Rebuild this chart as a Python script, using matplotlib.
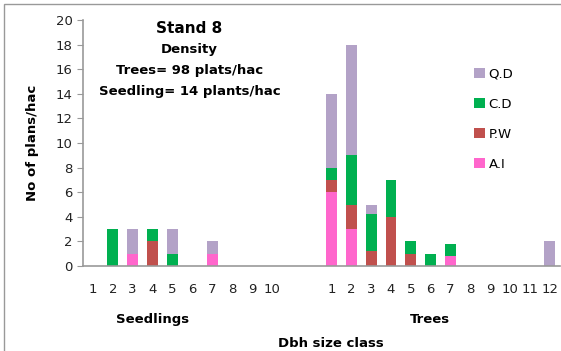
import numpy as np
import matplotlib.pyplot as plt
from matplotlib.patches import Rectangle

# Dbh size classes for seedlings and trees
seedling_classes = ['1', '2', '3', '4', '5', '6', '7', '8', '9', '10']
tree_classes = ['1', '2', '3', '4', '5', '6', '7', '8', '9', '10', '11', '12']

# Plants per hectare by species (stacked bottom to top: A.I, P.W, C.D, Q.D)
seedling_ai = [0, 0, 1, 0, 0, 0, 1, 0, 0, 0]
seedling_pw = [0, 0, 0, 2, 0, 0, 0, 0, 0, 0]
seedling_cd = [0, 3, 0, 1, 1, 0, 0, 0, 0, 0]
seedling_qd = [0, 0, 2, 0, 2, 0, 1, 0, 0, 0]

tree_ai = [6, 3, 0, 0, 0, 0, 0.8, 0, 0, 0, 0, 0]
tree_pw = [1, 2, 1.2, 4, 1, 0, 0, 0, 0, 0, 0, 0]
tree_cd = [1, 4, 3, 3, 1, 1, 1, 0, 0, 0, 0, 0]
tree_qd = [6, 9, 0.8, 0, 0, 0, 0, 0, 0, 0, 0, 2]

species = ['A.I', 'P.W', 'C.D', 'Q.D']
colors = ['#FF66CC', '#C0504D', '#00B050', '#B3A2C7']

# two empty slots separate seedlings from trees
gap = [0, 0]
series = [
    seedling_ai + gap + tree_ai,
    seedling_pw + gap + tree_pw,
    seedling_cd + gap + tree_cd,
    seedling_qd + gap + tree_qd,
]
labels = seedling_classes + ['', ''] + tree_classes
x = np.arange(len(labels))

fig = plt.figure(figsize=(5.61, 3.51), dpi=100)
ax = fig.add_axes([0.148, 0.242, 0.85, 0.701])

bottom = np.zeros(len(labels))
for name, vals, col in zip(species, series, colors):
    vals = np.array(vals, dtype=float)
    ax.bar(x, vals, width=0.55, bottom=bottom, color=col, label=name)
    bottom += vals

ax.set_xlim(-0.5, len(labels) - 0.5)
ax.set_ylim(0, 20)
ax.set_yticks(np.arange(0, 21, 2))
ax.set_xticks(x)
ax.set_xticklabels(labels)
ax.tick_params(axis='x', length=0, pad=12, labelsize=9.5, colors='#222222')
ax.tick_params(axis='y', length=4, color='#999999', labelsize=9.5, colors='#222222')
for s in ['top', 'right']:
    ax.spines[s].set_visible(False)
for s in ['left', 'bottom']:
    ax.spines[s].set_color('#999999')
    ax.spines[s].set_linewidth(1.2)

ax.set_ylabel('No of plans/hac', fontweight='bold', fontsize=9.5, labelpad=12)

# legend in reverse stacking order
handles, names = ax.get_legend_handles_labels()
ax.legend(handles[::-1], names[::-1], loc='upper left', bbox_to_anchor=(0.795, 0.855),
          frameon=False, handlelength=0.8, handleheight=0.8, labelspacing=1.3,
          handletextpad=0.3, fontsize=9.5)

# stand annotation
fig.text(0.338, 0.905, 'Stand 8', fontweight='bold', fontsize=11, ha='center')
fig.text(0.338, 0.85, 'Density', fontweight='bold', fontsize=9.5, ha='center')
fig.text(0.338, 0.79, 'Trees= 98 plats/hac', fontweight='bold', fontsize=9.5, ha='center')
fig.text(0.338, 0.73, 'Seedling= 14 plants/hac', fontweight='bold', fontsize=9.5, ha='center')

# group and axis titles
fig.text(0.272, 0.08, 'Seedlings', fontweight='bold', fontsize=9.5, ha='center')
fig.text(0.767, 0.08, 'Trees', fontweight='bold', fontsize=9.5, ha='center')
fig.text(0.59, 0.01, 'Dbh size class', fontweight='bold', fontsize=9.5, ha='center')

# chart frame
fig.patches.append(Rectangle((0.008, -0.01), 1.0, 1.0, transform=fig.transFigure,
                             fill=False, edgecolor='#999999', linewidth=1.0))

fig.savefig('out.png', dpi=100)
